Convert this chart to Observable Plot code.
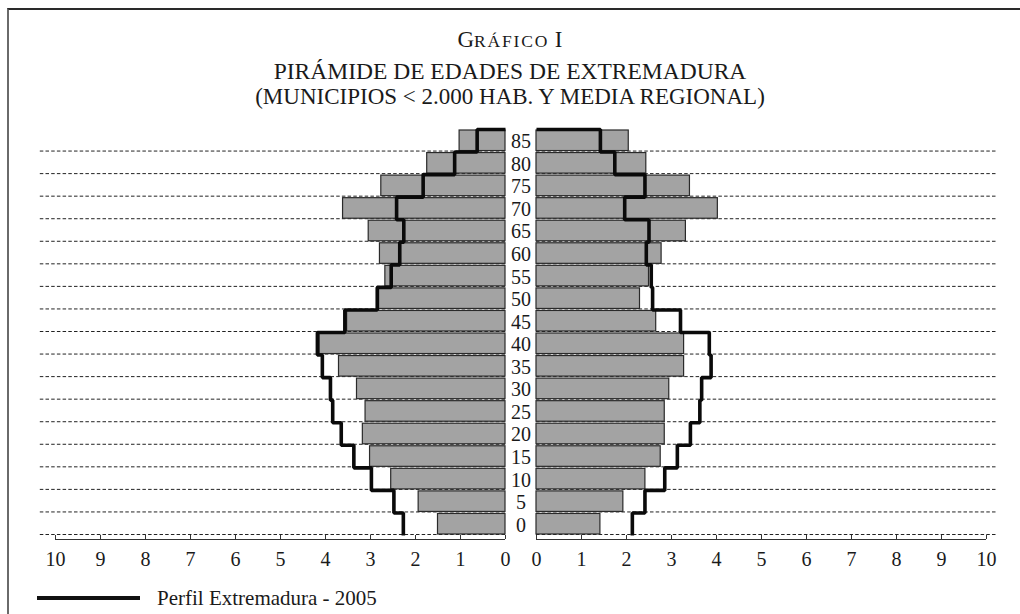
<!DOCTYPE html>
<html>
<head>
<meta charset="utf-8">
<script src="https://cdn.jsdelivr.net/npm/d3@7"></script>
<script src="https://cdn.jsdelivr.net/npm/@observablehq/plot@0.6"></script>
<style>
  body { margin: 0; background: #fff; }
  #wrap { position: relative; width: 1020px; height: 614px; overflow: hidden;
          font-family: "Liberation Serif", "Times New Roman", serif; color: #1a1a1a; background: #fff; }
  #frame { position: absolute; left: 7px; top: 8px; width: 1100px; height: 700px;
           border-top: 2px solid #2a2a2a; border-left: 2px solid #6a6a6a; z-index: 3; pointer-events: none; }
  .t { position: absolute; left: 0; width: 1020px; text-align: center; white-space: nowrap; }
  #t1 { top: 26px; font-size: 23px; line-height: 27px; }
  #t1 .sc { font-size: 17.5px; letter-spacing: 1.8px; }
  #t2 { top: 57px; font-size: 23.5px; line-height: 28px; }
  #t3 { top: 83px; font-size: 23px; line-height: 28px; }
  #chart { position: absolute; left: 0; top: 110px; }
  #legend { position: absolute; left: 37px; top: 584px; height: 28px; display: flex; align-items: center; font-size: 21px; }
  #legend .sw { width: 103px; height: 4px; background: #111; margin-right: 17px; }
</style>
</head>
<body>
<div id="wrap">
  <div class="t" id="t1">G<span class="sc">RÁFICO</span> I</div>
  <div class="t" id="t2">PIRÁMIDE DE EDADES DE EXTREMADURA</div>
  <div class="t" id="t3">(MUNICIPIOS &lt; 2.000 HAB. Y MEDIA REGIONAL)</div>
  <div id="chart"></div>
  <div id="legend"><div class="sw"></div><span id="legendText"></span></div>
  <div id="frame"></div>
</div>
<script>
// Age groups (bottom to top)
const ages = [0, 5, 10, 15, 20, 25, 30, 35, 40, 45, 50, 55, 60, 65, 70, 75, 80, 85];
// Left side: municipios < 2.000 hab. (%)
const leftBars  = [1.50, 1.93, 2.54, 3.01, 3.17, 3.11, 3.30, 3.70, 4.13, 3.52, 2.81, 2.67, 2.79, 3.04, 3.61, 2.76, 1.74, 1.02];
// Left side: perfil Extremadura 2005 (%)
const leftLine  = [2.27, 2.48, 2.98, 3.37, 3.65, 3.84, 3.89, 4.07, 4.18, 3.57, 2.85, 2.54, 2.35, 2.26, 2.42, 1.83, 1.13, 0.63];
// Right side: municipios < 2.000 hab. (%)
const rightBars = [1.42, 1.93, 2.42, 2.76, 2.85, 2.85, 2.95, 3.28, 3.28, 2.66, 2.30, 2.50, 2.78, 3.32, 4.03, 3.41, 2.44, 2.05];
// Right side: perfil Extremadura 2005 (%)
const rightLine = [2.13, 2.41, 2.85, 3.13, 3.42, 3.63, 3.67, 3.88, 3.84, 3.20, 2.58, 2.55, 2.44, 2.50, 1.96, 2.41, 1.74, 1.42];
// Axis ticks (each side)
const xTicks = [0, 1, 2, 3, 4, 5, 6, 7, 8, 9, 10];
const legendLabel = "Perfil Extremadura - 2005";

document.getElementById("legendText").textContent = legendLabel;

// half-width of the central age-label column, in axis units
const h = 15.5 / 45;
const n = ages.length;

const rows = ages.map((a, i) => ({age: a, i}));
const bars = rows.flatMap(r => [
  {x1: -h, x2: -(leftBars[r.i] + h), y1: r.i, y2: r.i + 1},
  {x1: h, x2: rightBars[r.i] + h, y1: r.i, y2: r.i + 1}
]);

function stepPts(vals, sign, side) {
  const pts = [{x: sign * h, y: n, side}];
  for (let i = n - 1; i >= 0; i--) {
    pts.push({x: sign * (vals[i] + h), y: i + 1, side});
    pts.push({x: sign * (vals[i] + h), y: i, side});
  }
  return pts;
}
const steps = [...stepPts(leftLine, -1, "L"), ...stepPts(rightLine, 1, "R")];

const dashes = rows.flatMap(r => [
  {x1: -h, x2: -(10.38 + h), y: r.i},
  {x1: h, x2: 10.22 + h, y: r.i}
]);
const axisSegs = [
  {x1: -h, x2: -(xTicks[xTicks.length - 1] + h), y: 0},
  {x1: h, x2: xTicks[xTicks.length - 1] + h, y: 0}
];
const tickU = [...xTicks.map(v => -(v + h)), ...xTicks.map(v => v + h)];

const chart = Plot.plot({
  width: 1020,
  height: 460,
  marginTop: 19,
  marginBottom: 35,
  marginLeft: 55,
  marginRight: 34,
  style: {background: "transparent", fontFamily: "Liberation Serif, Times New Roman, serif", fontSize: "20px", color: "#1a1a1a", overflow: "visible"},
  x: {domain: [-(10 + h), 10 + h]},
  y: {domain: [0, n], axis: null},
  marks: [
    Plot.ruleY(dashes, {x1: "x1", x2: "x2", y: "y", dy: -1, stroke: "#222", strokeWidth: 1, strokeDasharray: "3.5,2.2"}),
    Plot.rect(bars, {x1: "x1", x2: "x2", y1: "y1", y2: "y2", insetTop: 1, insetBottom: 1, fill: "#a3a3a3", stroke: "#2a2a2a", strokeWidth: 1.2}),
    Plot.line(steps, {x: "x", y: "y", z: "side", stroke: "#0a0a0a", strokeWidth: 3.6, strokeLinejoin: "miter", strokeLinecap: "butt"}),
    Plot.text(rows, {x: () => 0, y: d => d.i + 0.5, text: d => String(d.age), fontSize: 20, fill: "#1a1a1a", dy: 1}),
    Plot.ruleY(axisSegs, {x1: "x1", x2: "x2", y: "y", dy: 4, stroke: "#333", strokeWidth: 1.2}),
    Plot.axisX({ticks: tickU, tickFormat: u => String(Math.round(Math.abs(u) - h)), tickSize: 4, tickPadding: 12, fontSize: 20, stroke: "#333", fill: "#1a1a1a", label: null})
  ]
});
document.getElementById("chart").appendChild(chart);
</script>
</body>
</html>
